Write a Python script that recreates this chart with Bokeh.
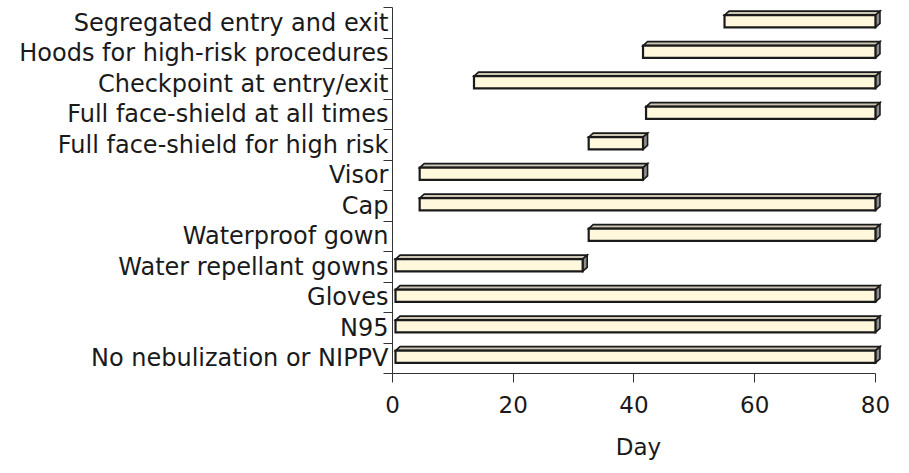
from bokeh.plotting import figure
from bokeh.models import FixedTicker, Range1d
from bokeh.embed import file_html
from bokeh.resources import INLINE

# ---- data ----
categories = [
    "Segregated entry and exit",
    "Hoods for high-risk procedures",
    "Checkpoint at entry/exit",
    "Full face-shield at all times",
    "Full face-shield for high risk",
    "Visor",
    "Cap",
    "Waterproof gown",
    "Water repellant gowns",
    "Gloves",
    "N95",
    "No nebulization or NIPPV",
]
start_day = [55, 41.5, 13.5, 42, 32.5, 4.5, 4.5, 32.5, 0.5, 0.5, 0.5, 0.5]
end_day = [80, 80, 80, 80, 41.5, 41.5, 80, 80, 31.5, 80, 80, 80]
x_ticks = [0, 20, 40, 60, 80]
x_label = "Day"

# ---- styling constants ----
FONT = "DejaVu Sans"
H = 0.40      # front-face height (row units)
DX = 0.75     # 3-D depth, x (days)
DY = 0.13     # 3-D depth, y (row units)
FRONT = "#fff8dc"
TOP = "#cdc6b4"
SIDE = "#8e8e8e"
EDGE = "#1a1a1a"
AXIS = "#333333"

n = len(categories)
ycen = [n - 1 - i + 0.55 for i in range(n)]
bottoms = [y - H / 2 for y in ycen]
tops = [y + H / 2 for y in ycen]

top_xs = [[s, e, e + DX, s + DX] for s, e in zip(start_day, end_day)]
top_ys = [[t, t, t + DY, t + DY] for t in tops]
side_xs = [[e, e + DX, e + DX, e] for e in end_day]
side_ys = [[b, b + DY, t + DY, t] for b, t in zip(bottoms, tops)]

W, HGT = 905, 470
LEFT, TOPB, FRAME_W, FRAME_H = 392, 7, 492, 366
p = figure(width=W, height=HGT, output_backend="svg", toolbar_location=None,
           x_range=Range1d(0, 81.5), y_range=Range1d(0, n),
           min_border_left=LEFT, min_border_right=W - LEFT - FRAME_W,
           min_border_top=TOPB, min_border_bottom=HGT - TOPB - FRAME_H)
p.outline_line_color = None
p.xgrid.visible = False
p.ygrid.visible = False
p.background_fill_color = "white"
p.border_fill_color = "white"

p.patches(top_xs, top_ys, fill_color=TOP, line_color=EDGE, line_width=1.6,
          line_join="miter")
p.patches(side_xs, side_ys, fill_color=SIDE, line_color=EDGE, line_width=1.6,
          line_join="miter")
p.quad(left=start_day, right=end_day, bottom=bottoms, top=tops,
       fill_color=FRONT, line_color=EDGE, line_width=2.2, line_join="miter")

# x axis
xa = p.xaxis[0]
xa.ticker = FixedTicker(ticks=x_ticks)
xa.bounds = (0, 80)
xa.axis_line_color = AXIS
xa.major_tick_line_color = AXIS
xa.major_tick_out = 9
xa.major_tick_in = 0
xa.minor_tick_line_color = None
xa.major_label_text_font = FONT
xa.major_label_text_font_size = "23px"
xa.major_label_text_color = "#1a1a1a"
xa.major_label_standoff = 13
xa.axis_label = x_label
xa.axis_label_text_font = FONT
xa.axis_label_text_font_size = "23px"
xa.axis_label_text_font_style = "normal"
xa.axis_label_text_color = "#1a1a1a"
xa.axis_label_standoff = 18

# y axis: labels at row centres, tick marks at row boundaries
ya = p.yaxis[0]
centers = [n - 1 - i + 0.5 for i in range(n)]
ya.ticker = FixedTicker(ticks=centers, minor_ticks=list(range(n + 1)))
ya.major_label_overrides = {c: lab for c, lab in zip(centers, categories)}
ya.bounds = (0, n)
ya.axis_line_color = AXIS
ya.major_tick_line_color = None
ya.major_tick_out = 0
ya.major_tick_in = 0
ya.minor_tick_line_color = AXIS
ya.minor_tick_out = 9
ya.minor_tick_in = 0
ya.major_label_standoff = -5
ya.major_label_text_font = FONT
ya.major_label_text_font_size = "24px"
ya.major_label_text_color = "#1a1a1a"

open("out.html", "w").write(file_html(p, INLINE))
